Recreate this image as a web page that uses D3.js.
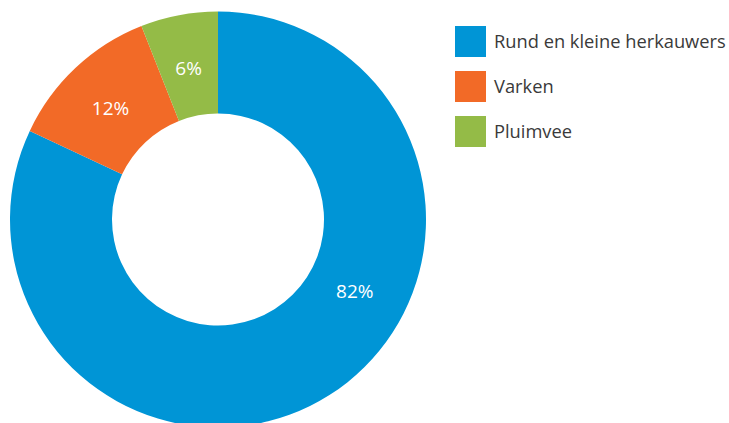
<!DOCTYPE html>
<html><head><meta charset="utf-8">
<script src="https://cdn.jsdelivr.net/npm/d3@7"></script>
<style>html,body{margin:0;padding:0;background:#fff;}svg{display:block;}</style>
</head><body>
<svg id="chart" width="729" height="423"></svg>
<script>
const categories = ["Rund en kleine herkauwers", "Varken", "Pluimvee"];
const values = [82, 12, 6];
const labels = ["82%", "12%", "6%"];
const colors = ["#0095d6", "#f26a27", "#94bb47"];

const svg = d3.select("#chart");
const cx = 218, cy = 219.5, outerR = 208, innerR = 106;
const g = svg.append("g").attr("transform", `translate(${cx},${cy})`);

const pie = d3.pie().sort(null).value(d => d)(values);
const arc = d3.arc().innerRadius(innerR).outerRadius(outerR);

g.selectAll("path").data(pie).enter().append("path")
  .attr("d", arc).attr("fill", (d, i) => colors[i]);

const labelR = 157;
g.selectAll("text.lbl").data(pie).enter().append("text")
  .attr("class", "lbl")
  .attr("transform", (d, i) => {
    let a = (d.startAngle + d.endAngle) / 2, r = labelR;
    if (i === 0) { a = 116.6 * Math.PI / 180; r = 153; }
    return `translate(${r * Math.sin(a)},${-r * Math.cos(a) + 5})`;
  })
  .attr("text-anchor", "middle").attr("dominant-baseline", "middle")
  .attr("fill", "#fff").attr("font-family", "Open Sans, sans-serif").attr("font-size", 19)
  .text((d, i) => labels[i]);

const leg = svg.append("g").attr("transform", "translate(455,26)");
const item = leg.selectAll("g").data(categories).enter().append("g")
  .attr("transform", (d, i) => `translate(0,${i * 45})`);
item.append("rect").attr("width", 31).attr("height", 31).attr("fill", (d, i) => colors[i]);
item.append("text").attr("x", 39).attr("y", 22)
  .attr("font-family", "Open Sans, sans-serif").attr("font-size", 18.3).attr("fill", "#3a3a3a")
  .text(d => d);
</script>
</body></html>
